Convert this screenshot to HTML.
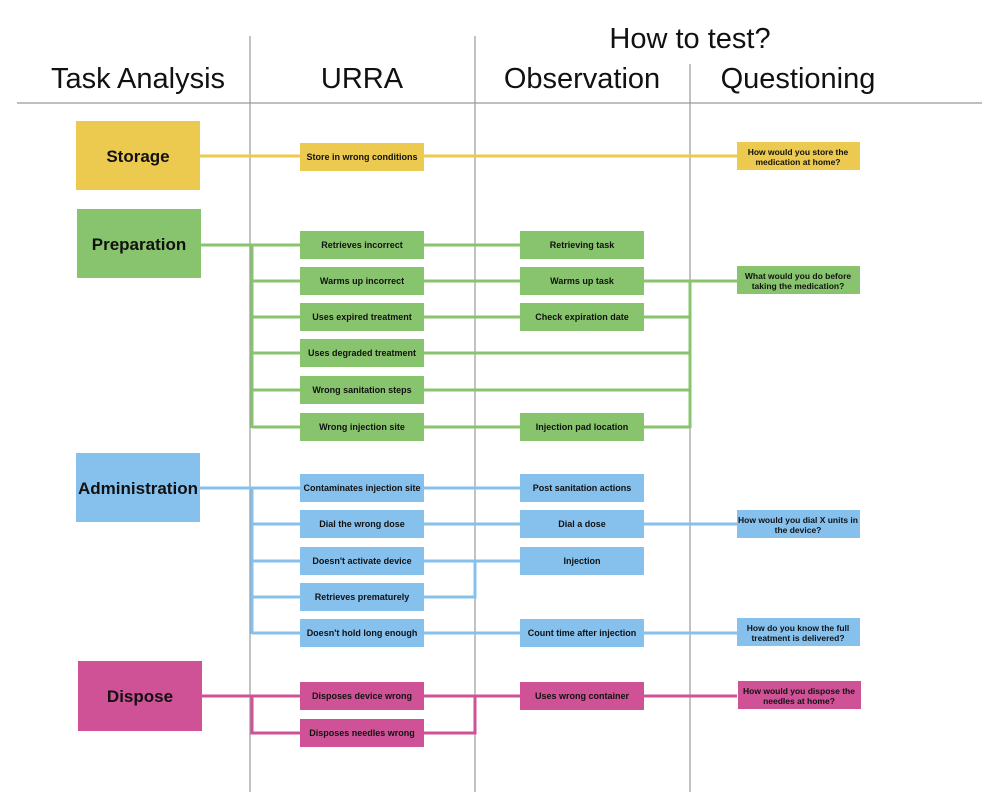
<!DOCTYPE html>
<html><head><meta charset="utf-8"><style>
body{margin:0;background:#fff}
svg{display:block}
text{font-family:"Liberation Sans",sans-serif;fill:#111}
.s{font-size:9px;font-weight:bold}
.b{font-size:17px;font-weight:bold}
.h{font-size:29px}
</style></head><body>
<svg width="1000" height="807" viewBox="0 0 1000 807">
<g stroke="#999" stroke-width="1.2">
<line x1="250" y1="36" x2="250" y2="792"/>
<line x1="475" y1="36" x2="475" y2="792"/>
<line x1="690" y1="64" x2="690" y2="792"/>
<line x1="17" y1="103" x2="982" y2="103"/>
</g>
<g text-anchor="middle">
<text class="h" x="138" y="88">Task Analysis</text>
<text class="h" x="362" y="88">URRA</text>
<text class="h" x="582" y="88">Observation</text>
<text class="h" x="798" y="88">Questioning</text>
<text class="h" x="690" y="48">How to test?</text>
</g>
<g fill="none" stroke-width="3">
<g stroke="#ecc94f"><line x1="200" y1="156" x2="737" y2="156"/></g>
<g stroke="#88c46d">
<polyline points="201,245 300,245"/><line x1="252" y1="245" x2="252" y2="428"/>
<line x1="252" y1="281" x2="300" y2="281"/><line x1="252" y1="317" x2="300" y2="317"/><line x1="252" y1="353" x2="300" y2="353"/><line x1="252" y1="390" x2="300" y2="390"/><line x1="252" y1="427" x2="300" y2="427"/>
<line x1="424" y1="245" x2="520" y2="245"/><line x1="424" y1="281" x2="520" y2="281"/><line x1="424" y1="317" x2="520" y2="317"/><line x1="424" y1="427" x2="520" y2="427"/>
<line x1="424" y1="353" x2="690" y2="353"/><line x1="424" y1="390" x2="690" y2="390"/>
<line x1="644" y1="281" x2="737" y2="281"/><line x1="644" y1="317" x2="690" y2="317"/><line x1="644" y1="427" x2="690" y2="427"/>
<line x1="690" y1="281" x2="690" y2="428"/>
</g>
<g stroke="#86c1ee">
<line x1="200" y1="488" x2="300" y2="488"/><line x1="252" y1="488" x2="252" y2="634"/>
<line x1="252" y1="524" x2="300" y2="524"/><line x1="252" y1="561" x2="300" y2="561"/><line x1="252" y1="597" x2="300" y2="597"/><line x1="252" y1="633" x2="300" y2="633"/>
<line x1="424" y1="488" x2="520" y2="488"/><line x1="424" y1="524" x2="520" y2="524"/><line x1="424" y1="561" x2="520" y2="561"/><line x1="424" y1="633" x2="520" y2="633"/>
<polyline points="424,597 475,597 475,561"/>
<line x1="644" y1="524" x2="737" y2="524"/><line x1="644" y1="633" x2="737" y2="633"/>
</g>
<g stroke="#cf5296">
<line x1="202" y1="696" x2="300" y2="696"/><polyline points="252,696 252,733 300,733"/>
<line x1="424" y1="696" x2="520" y2="696"/><polyline points="424,733 475,733 475,696"/>
<line x1="644" y1="696" x2="737" y2="696"/>
</g>
</g>
<g>
<rect x="76" y="121" width="124" height="69" fill="#ecc94f"/>
<rect x="77" y="209" width="124" height="69" fill="#88c46d"/>
<rect x="76" y="453" width="124" height="69" fill="#86c1ee"/>
<rect x="78" y="661" width="124" height="70" fill="#cf5296"/>
</g>
<g text-anchor="middle">
<text class="b" x="138" y="162">Storage</text>
<text class="b" x="139" y="250">Preparation</text>
<text class="b" x="138" y="494">Administration</text>
<text class="b" x="140" y="702">Dispose</text>
</g>
<g>
<rect x="300" y="143" width="124" height="28" fill="#ecc94f"/>
<rect x="300" y="231" width="124" height="28" fill="#88c46d"/>
<rect x="300" y="267" width="124" height="28" fill="#88c46d"/>
<rect x="300" y="303" width="124" height="28" fill="#88c46d"/>
<rect x="300" y="339" width="124" height="28" fill="#88c46d"/>
<rect x="300" y="376" width="124" height="28" fill="#88c46d"/>
<rect x="300" y="413" width="124" height="28" fill="#88c46d"/>
<rect x="300" y="474" width="124" height="28" fill="#86c1ee"/>
<rect x="300" y="510" width="124" height="28" fill="#86c1ee"/>
<rect x="300" y="547" width="124" height="28" fill="#86c1ee"/>
<rect x="300" y="583" width="124" height="28" fill="#86c1ee"/>
<rect x="300" y="619" width="124" height="28" fill="#86c1ee"/>
<rect x="300" y="682" width="124" height="28" fill="#cf5296"/>
<rect x="300" y="719" width="124" height="28" fill="#cf5296"/>
<rect x="520" y="231" width="124" height="28" fill="#88c46d"/>
<rect x="520" y="267" width="124" height="28" fill="#88c46d"/>
<rect x="520" y="303" width="124" height="28" fill="#88c46d"/>
<rect x="520" y="413" width="124" height="28" fill="#88c46d"/>
<rect x="520" y="474" width="124" height="28" fill="#86c1ee"/>
<rect x="520" y="510" width="124" height="28" fill="#86c1ee"/>
<rect x="520" y="547" width="124" height="28" fill="#86c1ee"/>
<rect x="520" y="619" width="124" height="28" fill="#86c1ee"/>
<rect x="520" y="682" width="124" height="28" fill="#cf5296"/>
<rect x="737" y="142" width="123" height="28" fill="#ecc94f"/>
<rect x="737" y="266" width="123" height="28" fill="#88c46d"/>
<rect x="737" y="510" width="123" height="28" fill="#86c1ee"/>
<rect x="737" y="618" width="123" height="28" fill="#86c1ee"/>
<rect x="738" y="681" width="123" height="28" fill="#cf5296"/>
</g>
<g text-anchor="middle" class="s">
<text x="362" y="160">Store in wrong conditions</text>
<text x="362" y="248">Retrieves incorrect</text>
<text x="362" y="284">Warms up incorrect</text>
<text x="362" y="320">Uses expired treatment</text>
<text x="362" y="356">Uses degraded treatment</text>
<text x="362" y="393">Wrong sanitation steps</text>
<text x="362" y="430">Wrong injection site</text>
<text x="362" y="491">Contaminates injection site</text>
<text x="362" y="527">Dial the wrong dose</text>
<text x="362" y="564">Doesn't activate device</text>
<text x="362" y="600">Retrieves prematurely</text>
<text x="362" y="636">Doesn't hold long enough</text>
<text x="362" y="699">Disposes device wrong</text>
<text x="362" y="736">Disposes needles wrong</text>
<text x="582" y="248">Retrieving task</text>
<text x="582" y="284">Warms up task</text>
<text x="582" y="320">Check expiration date</text>
<text x="582" y="430">Injection pad location</text>
<text x="582" y="491">Post sanitation actions</text>
<text x="582" y="527">Dial a dose</text>
<text x="582" y="564">Injection</text>
<text x="582" y="636">Count time after injection</text>
<text x="582" y="699">Uses wrong container</text>
<g font-size="8.5">
<text x="798" y="155">How would you store the</text><text x="798" y="165">medication at home?</text>
<text x="798" y="279">What would you do before</text><text x="798" y="289">taking the medication?</text>
<text x="798" y="523">How would you dial X units in</text><text x="798" y="533">the device?</text>
<text x="798" y="631">How do you know the full</text><text x="798" y="641">treatment is delivered?</text>
<text x="799" y="694">How would you dispose the</text><text x="799" y="704">needles at home?</text>
</g>
</g>
</svg>
</body></html>
